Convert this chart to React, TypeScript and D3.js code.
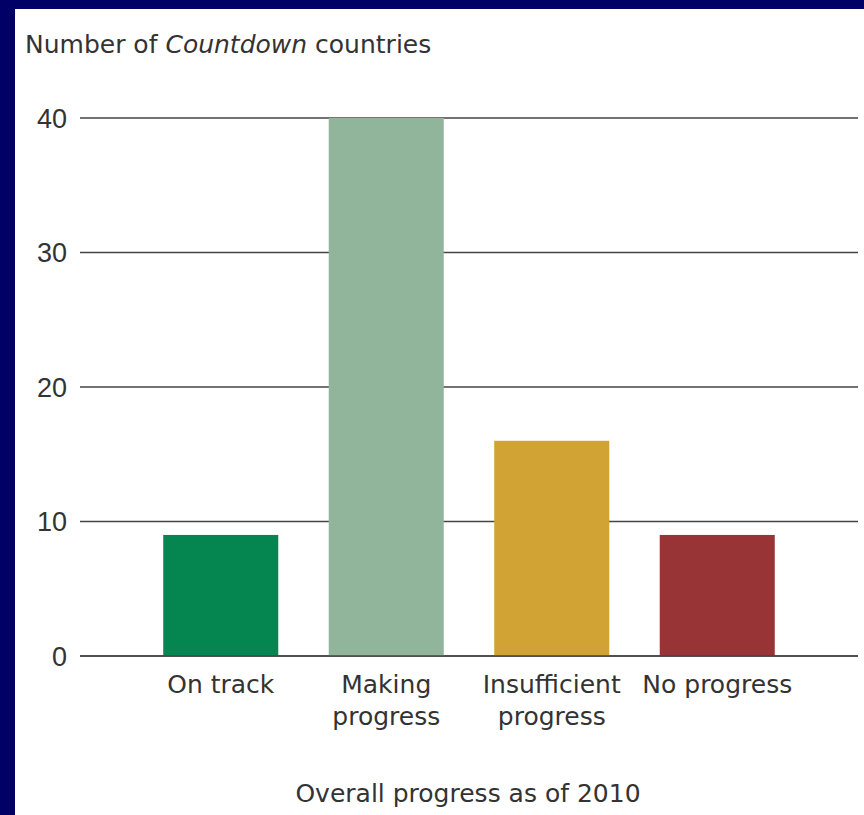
import React from "react";
import * as d3 from "d3";

const categories = ["On track", "Making progress", "Insufficient progress", "No progress"];
const categoryLines = [["On track"], ["Making", "progress"], ["Insufficient", "progress"], ["No progress"]];
const values = [9, 40, 16, 9];
const colors = ["#058651", "#91b59a", "#d0a334", "#993436"];
const yTicks = [0, 10, 20, 30, 40];

const W = 864;
const H = 815;
const FONT = "'DejaVu Sans', sans-serif";
const TICKFONT = "'Liberation Sans', Arial, sans-serif";

export default function App() {
  const y = d3.scaleLinear().domain([0, 40]).range([656, 118]);
  const x = d3
    .scaleBand<string>()
    .domain(categories)
    .range([138, 800])
    .paddingInner(0.305)
    .paddingOuter(0.1525);

  return (
    <svg
      width={W}
      height={H}
      style={{ position: "absolute", left: 0, top: 0, display: "block" }}
    >
      <rect x={0} y={0} width={W} height={H} fill="#000066" />
      <rect x={15} y={9} width={W - 15} height={H - 9} fill="#ffffff" />
      <text x={25} y={53} fontFamily={FONT} fontSize={25} fill="#333">
        Number of <tspan fontStyle="italic">Countdown</tspan> countries
      </text>
      {yTicks.map((t) => (
        <g key={t}>
          <line x1={80} x2={858} y1={y(t)} y2={y(t)} stroke="#444" strokeWidth={1.3} />
          <text
            x={67}
            y={y(t)}
            dy="0.36em"
            textAnchor="end"
            fontFamily={TICKFONT}
            fontSize={27}
            fill="#333"
          >
            {t}
          </text>
        </g>
      ))}
      {categories.map((c, i) => (
        <rect
          key={c}
          x={x(c)}
          width={x.bandwidth()}
          y={y(values[i])}
          height={y(0) - y(values[i])}
          fill={colors[i]}
        />
      ))}
      <line x1={80} x2={858} y1={y(0)} y2={y(0)} stroke="#444" strokeWidth={1.3} />
      {categories.map((c, i) => (
        <text
          key={c}
          x={(x(c) as number) + x.bandwidth() / 2}
          y={693}
          textAnchor="middle"
          fontFamily={FONT}
          fontSize={25}
          fill="#333"
        >
          {categoryLines[i].map((l, j) => (
            <tspan key={j} x={(x(c) as number) + x.bandwidth() / 2} dy={j === 0 ? 0 : 32}>
              {l}
            </tspan>
          ))}
        </text>
      ))}
      <text x={468} y={802} textAnchor="middle" fontFamily={FONT} fontSize={25} fill="#333">
        Overall progress as of 2010
      </text>
    </svg>
  );
}
